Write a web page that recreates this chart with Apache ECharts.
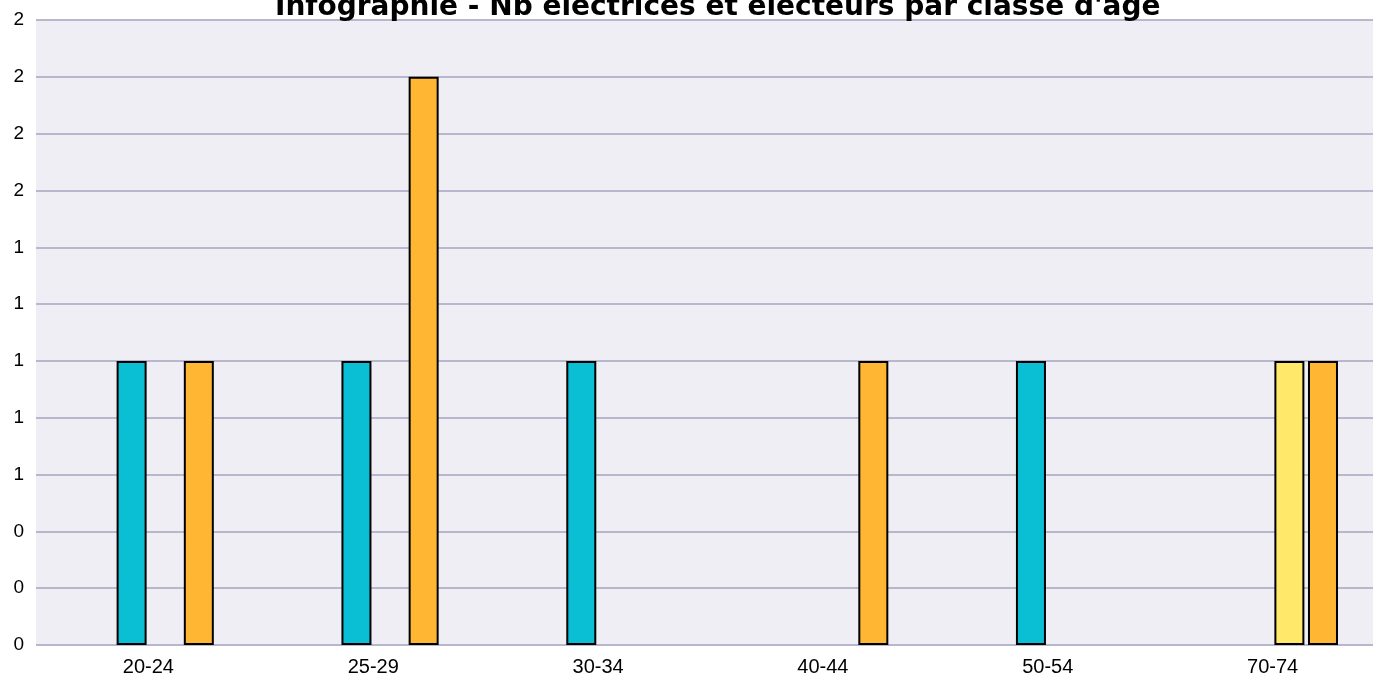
<!DOCTYPE html>
<html>
<head>
<meta charset="utf-8">
<script src="https://cdn.jsdelivr.net/npm/echarts@6/dist/echarts.min.js"></script>
<style>
html, body { margin: 0; padding: 0; background: #fff; overflow: hidden; }
/* le graphique d'origine dépasse à droite */
#chart { width: 1385px; height: 678px; }
</style>
</head>
<body>
<div id="chart"></div>
<script>
// classes d'âge
var categories = ["20-24", "25-29", "30-34", "40-44", "50-54", "70-74"];
// effectifs par série (null = pas de barre)
var serieVide = [null, null, null, null, null, null];
var serieCyan = [1, 1, 1, null, 1, null];
var serieJaune = [null, null, null, null, null, 1];
var serieOrange = [1, 2, null, 1, null, 1];

var colorList = ["#8e8e8e", "#0abfd4", "#ffe86a", "#ffb632"];
var seriesData = [serieVide, serieCyan, serieJaune, serieOrange];

var myChart = echarts.init(document.getElementById("chart"));
var _series = [];
for (var i = 0; i < seriesData.length; i++) {
  _series.push({
    type: "bar",
    data: seriesData[i],
    barWidth: 30,
    barGap: "12%",
    itemStyle: {
      color: colorList[i],
      borderColor: "#000",
      borderWidth: 2
    }
  });
}

var option = {
  animation: false,
  title: {
    text: "Infographie - Nb électrices et électeurs par classe d'âge",
    left: 270,
    top: -11,
    textStyle: {
      fontFamily: "DejaVu Sans",
      fontWeight: "bold",
      fontSize: 28,
      color: "#000"
    }
  },
  grid: {
    left: 36,
    right: 0,
    top: 20,
    bottom: 33,
    backgroundColor: "#efeef4",
    show: true,
    borderWidth: 0
  },
  xAxis: {
    type: "category",
    data: categories,
    axisLine: { show: false },
    axisTick: { show: false },
    axisLabel: {
      color: "#000",
      fontFamily: "Liberation Sans",
      fontSize: 20,
      margin: 12
    }
  },
  yAxis: {
    type: "value",
    min: 0,
    max: 2.2,
    interval: 0.2,
    axisLine: { show: false },
    axisTick: { show: false },
    axisLabel: {
      color: "#000",
      fontFamily: "Liberation Sans",
      fontSize: 19,
      margin: 12,
      formatter: function (v) {
        return Math.round(v).toString();
      }
    },
    splitLine: {
      lineStyle: { color: "#b8b7cd", width: 2 }
    }
  },
  series: _series
};
myChart.setOption(option);
</script>
</body>
</html>
